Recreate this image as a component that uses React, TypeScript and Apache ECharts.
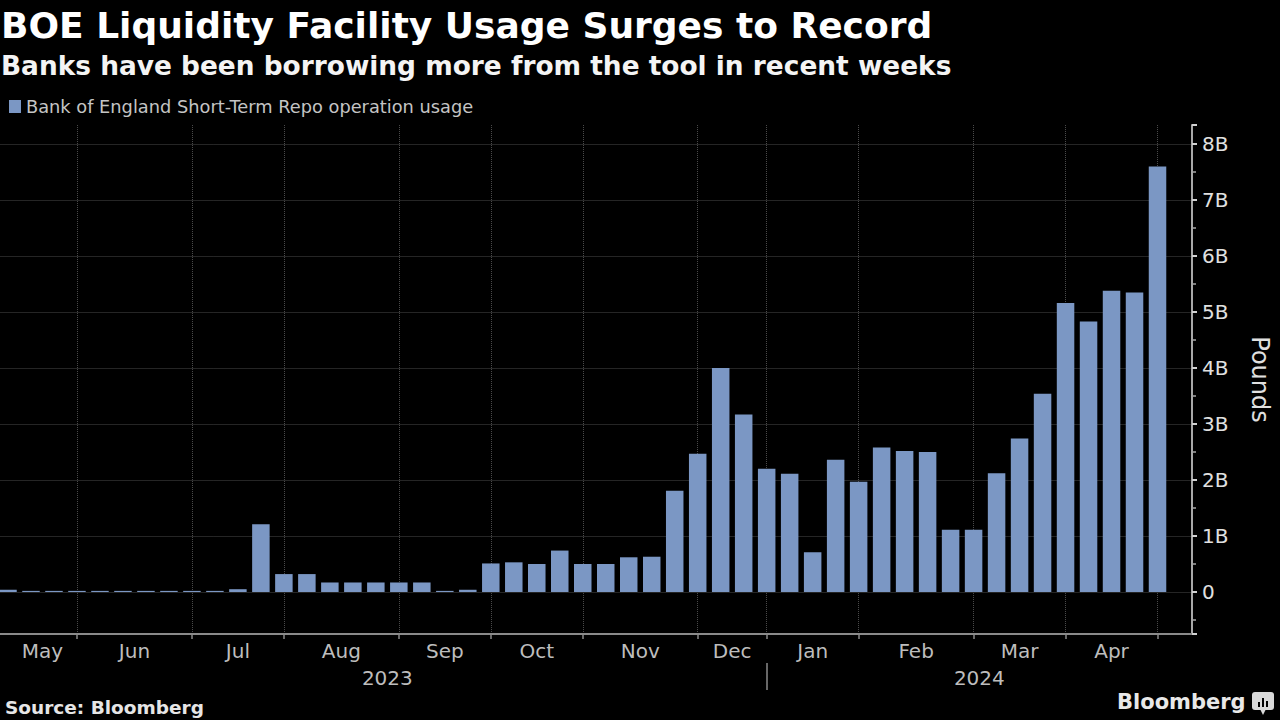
import React, { useEffect, useRef } from 'react';
import * as echarts from 'echarts';

const TITLE = 'BOE Liquidity Facility Usage Surges to Record';
const SUBTITLE = 'Banks have been borrowing more from the tool in recent weeks';
const SERIES_NAME = 'Bank of England Short-Term Repo operation usage';
const Y_AXIS_NAME = 'Pounds';
const SOURCE = 'Source: Bloomberg';
const BRAND = 'Bloomberg';

// Weekly operation dates (Thursdays)
const weekDates = [
  '2023-05-11', '2023-05-18', '2023-05-25',
  '2023-06-01', '2023-06-08', '2023-06-15', '2023-06-22', '2023-06-29',
  '2023-07-06', '2023-07-13', '2023-07-20', '2023-07-27',
  '2023-08-03', '2023-08-10', '2023-08-17', '2023-08-24', '2023-08-31',
  '2023-09-07', '2023-09-14', '2023-09-21', '2023-09-28',
  '2023-10-05', '2023-10-12', '2023-10-19', '2023-10-26',
  '2023-11-02', '2023-11-09', '2023-11-16', '2023-11-23', '2023-11-30',
  '2023-12-07', '2023-12-14', '2023-12-21',
  '2024-01-04', '2024-01-11', '2024-01-18', '2024-01-25',
  '2024-02-01', '2024-02-08', '2024-02-15', '2024-02-22', '2024-02-29',
  '2024-03-07', '2024-03-14', '2024-03-21', '2024-03-28',
  '2024-04-04', '2024-04-11', '2024-04-18', '2024-04-25',
  '2024-05-02',
];

// Usage, billions of pounds
const usageBillions = [
  0.04, 0.02, 0.02,
  0.02, 0.02, 0.02, 0.02, 0.02,
  0.02, 0.02, 0.05, 1.21,
  0.32, 0.32, 0.17, 0.17, 0.17,
  0.17, 0.17, 0.02, 0.04,
  0.51, 0.53, 0.5, 0.74,
  0.5, 0.5, 0.62, 0.63, 1.81,
  2.47, 4.0, 3.17,
  2.2, 2.11, 0.71, 2.36,
  1.97, 2.58, 2.52, 2.5, 1.11,
  1.11, 2.12, 2.74, 3.54,
  5.16, 4.83, 5.38, 5.35,
  7.6,
];

const monthNames = ['Jan', 'Feb', 'Mar', 'Apr', 'May', 'Jun', 'Jul', 'Aug', 'Sep', 'Oct', 'Nov', 'Dec'];
const yMin = -0.75;
const yMax = 8.34;
const yTickSuffix = 'B';

// Fine point axis: SUB points per bar slot, one extra empty slot at the right
const SUB = 4;
const SLOTS = weekDates.length + 1;
const POINTS = SLOTS * SUB + 1;
const pointKeys = Array.from({ length: POINTS }, (_, k) => 'p' + k);
const centerPt = (i: number) => i * SUB + SUB / 2;

const monthStarts: number[] = [];
const yearStarts: number[] = [];
weekDates.forEach((d, i) => {
  if (i === 0 || d.slice(0, 7) !== weekDates[i - 1].slice(0, 7)) monthStarts.push(i);
  if (i === 0 || d.slice(0, 4) !== weekDates[i - 1].slice(0, 4)) yearStarts.push(i);
});
const boundaryPts = new Set(monthStarts.slice(1).map(centerPt));
const monthLabelAt: Record<number, string> = {};
for (let m = 0; m < monthStarts.length - 1; m++) {
  const a = monthStarts[m];
  const b = monthStarts[m + 1];
  monthLabelAt[(centerPt(a) + centerPt(b)) / 2] = monthNames[Number(weekDates[a].slice(5, 7)) - 1];
}
const yearLabelAt: Record<number, string> = {};
yearStarts.forEach((s, j) => {
  const from = centerPt(s);
  const to = j < yearStarts.length - 1 ? centerPt(yearStarts[j + 1]) : POINTS - 1;
  yearLabelAt[Math.round((from + to) / 2)] = weekDates[s].slice(0, 4);
});
const yearSeparatorPts = new Set(yearStarts.slice(1).map(centerPt));

const FONT = "'DejaVu Sans', Verdana, sans-serif";

export default function App() {
  const ref = useRef<HTMLDivElement>(null);
  useEffect(() => {
    if (!ref.current) return;
    const chart = echarts.init(ref.current, undefined, { renderer: 'svg' });
    const option: any = {
      animation: false,
      backgroundColor: '#000',
      textStyle: { fontFamily: FONT },
      title: [
        { text: TITLE, left: 1, top: 7, padding: 0, textStyle: { color: '#ffffff', fontSize: 36, fontWeight: 'bold', fontFamily: FONT } },
        { text: SUBTITLE, left: 1, top: 52, padding: 0, textStyle: { color: '#f4f4f4', fontSize: 26.4, fontWeight: 'bold', fontFamily: FONT } },
        { text: SOURCE, left: 5, top: 698, padding: 0, textStyle: { color: '#e6e6e6', fontSize: 18.5, fontWeight: 'bold', fontFamily: FONT } },
        { text: BRAND, left: 1117, top: 691, padding: 0, textStyle: { color: '#e8e8e8', fontSize: 21, fontWeight: 'bold', fontFamily: FONT } },
      ],
      legend: {
        left: 9, top: 97.5, padding: 0, icon: 'rect', itemWidth: 12, itemHeight: 13,
        selectedMode: false, data: [SERIES_NAME],
        textStyle: { color: '#c4c4c4', fontSize: 17.8, fontFamily: FONT },
      },
      grid: { left: -3.5, right: 88, top: 125, bottom: 86, outerBoundsMode: 'none', containLabel: false },
      xAxis: [
        { type: 'category', data: weekDates, max: weekDates.length, show: false },
        {
          type: 'category', boundaryGap: false, data: pointKeys, position: 'bottom',
          axisLine: { show: true, onZero: false, lineStyle: { color: '#8a8a8a', width: 2 } },
          axisTick: { show: true, interval: (i: number) => boundaryPts.has(i), length: 5, lineStyle: { color: '#8a8a8a', width: 1.5 } },
          axisLabel: { show: true, interval: 0, margin: 7, color: '#bdbdbd', fontSize: 20, fontFamily: FONT, formatter: (_v: string, i: number) => monthLabelAt[i] ?? '' },
          splitLine: { show: true, interval: (i: number) => boundaryPts.has(i), lineStyle: { color: '#4a4a4a', type: 'dotted', width: 1 } },
        },
        {
          type: 'category', boundaryGap: false, data: pointKeys, position: 'bottom', offset: 29,
          axisLine: { show: false, onZero: false },
          axisTick: { show: true, interval: (i: number) => yearSeparatorPts.has(i), length: 27, lineStyle: { color: '#8a8a8a', width: 1.5 } },
          axisLabel: { show: true, interval: 0, margin: 5, color: '#bdbdbd', fontSize: 20, fontFamily: FONT, formatter: (_v: string, i: number) => yearLabelAt[i] ?? '' },
          splitLine: { show: false },
        },
      ],
      yAxis: {
        type: 'value', position: 'right', min: yMin, max: yMax, splitNumber: 9,
        axisLine: { show: true, lineStyle: { color: '#a8a8a8', width: 2 } },
        axisTick: { show: true, length: 5, lineStyle: { color: '#d0d0d0', width: 2 } },
        minorTick: { show: true, splitNumber: 2, length: 4, lineStyle: { color: '#a8a8a8', width: 1.5 } },
        axisLabel: {
          color: '#e0e0e0', fontSize: 20, margin: 10, fontFamily: FONT,
          showMinLabel: false, showMaxLabel: false,
          formatter: (v: number) => (v === 0 ? '0' : v + yTickSuffix),
        },
        splitLine: { show: true, showMinLine: false, showMaxLine: false, lineStyle: { color: '#4a4a4a', type: 'dotted', width: 1 } },
        name: Y_AXIS_NAME, nameLocation: 'middle', nameRotate: -90, nameGap: 56,
        nameTextStyle: { color: '#e0e0e0', fontSize: 24, fontFamily: FONT },
      },
      series: [
        {
          type: 'bar', name: SERIES_NAME, data: usageBillions, xAxisIndex: 0, yAxisIndex: 0,
          barWidth: 17.5, itemStyle: { color: '#7b97c4' },
        },
      ],
      graphic: [
        {
          type: 'group', left: 1252, top: 692,
          children: [
            { type: 'rect', shape: { x: 0, y: 0, width: 22, height: 18, r: 3 }, style: { fill: '#d8d8d8' } },
            { type: 'polygon', shape: { points: [[8, 17], [14, 17], [11, 23]] }, style: { fill: '#d8d8d8' } },
            { type: 'rect', shape: { x: 6, y: 10, width: 2, height: 5 }, style: { fill: '#000' } },
            { type: 'rect', shape: { x: 10, y: 6, width: 2, height: 9 }, style: { fill: '#000' } },
            { type: 'rect', shape: { x: 14, y: 9, width: 2, height: 6 }, style: { fill: '#000' } },
          ],
        },
      ],
    };
    chart.setOption(option);
    return () => chart.dispose();
  }, []);
  return (
    <div
      ref={ref}
      style={{ position: 'fixed', left: 0, top: 0, width: 1280, height: 720, background: '#000' }}
    />
  );
}
